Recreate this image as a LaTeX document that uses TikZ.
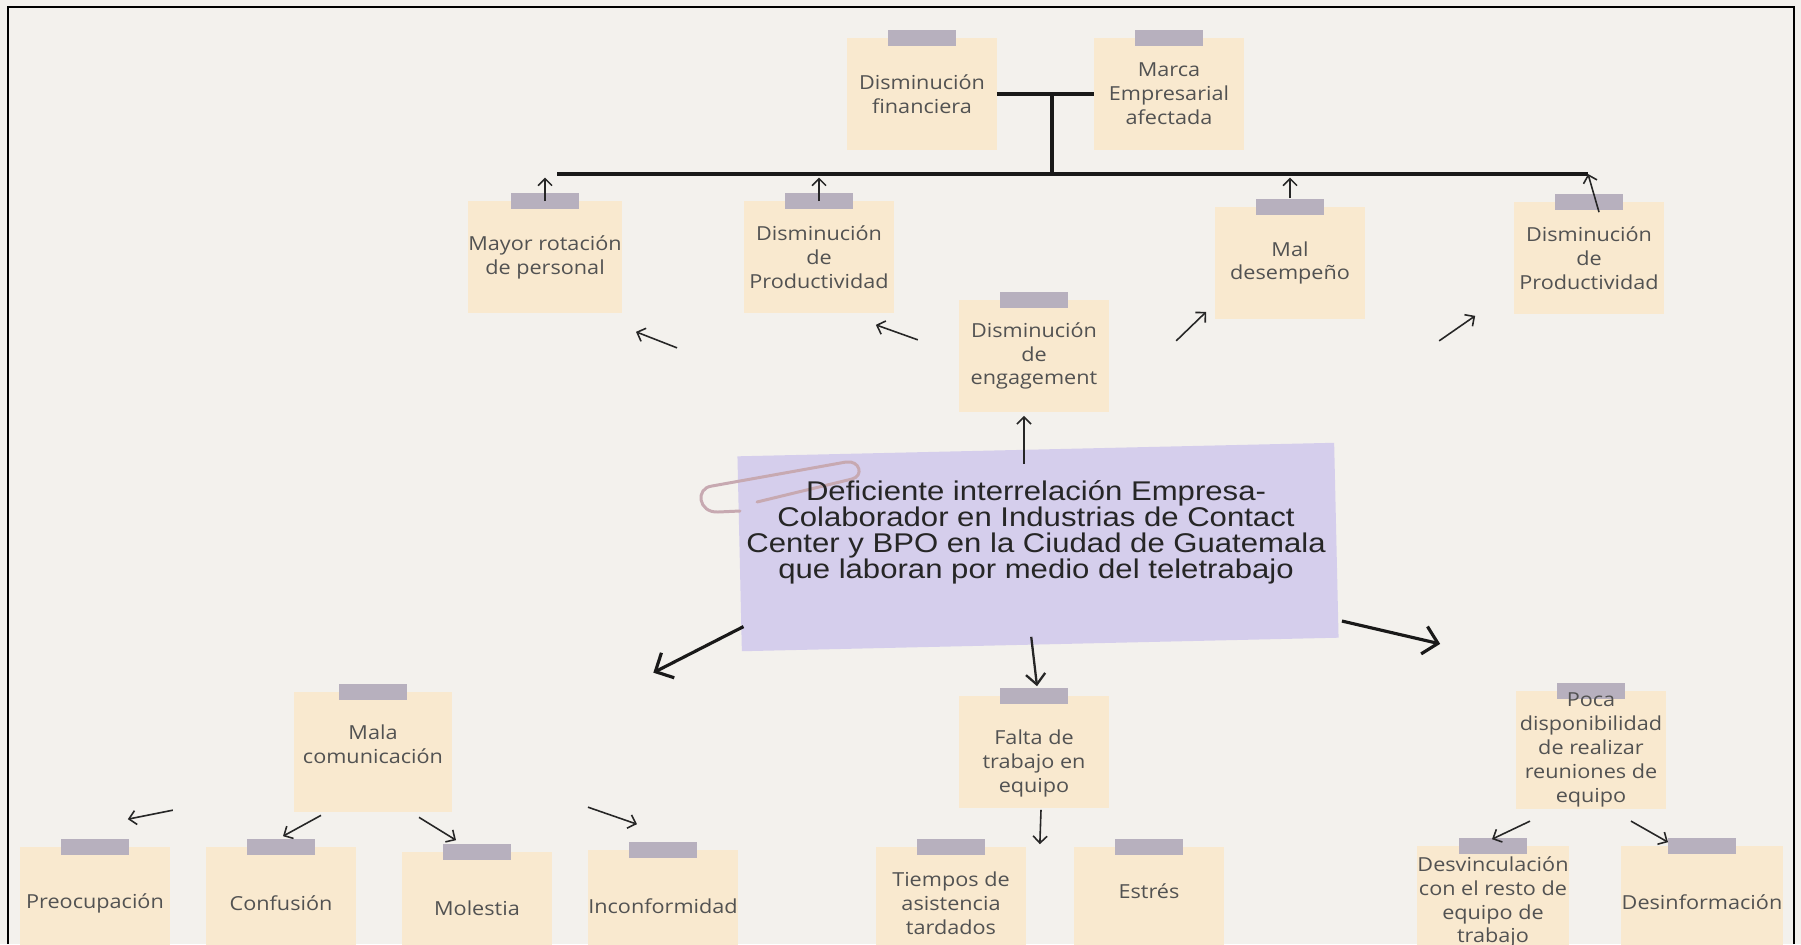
\documentclass[tikz,border=0pt]{standalone}
\usepackage{fontspec}
\usepackage{xcolor}
\usepackage{tikz}
\usetikzlibrary{arrows.meta}

\setmainfont{Open Sans}
\newfontfamily\notefont[FakeStretch=1.12]{Open Sans}
\newfontfamily\corefont[FakeStretch=1.15]{Liberation Sans}

\definecolor{paper}{HTML}{F3F1ED}
\definecolor{notecol}{HTML}{F9E9CF}
\definecolor{tapecol}{HTML}{B7B0BE}
\definecolor{lilac}{HTML}{D5CEEC}
\definecolor{clipcol}{HTML}{C7A9B1}
\definecolor{inkcol}{HTML}{525252}

\pgfdeclarelayer{paperlayer}
\pgfdeclarelayer{tapelayer}
\pgfsetlayers{paperlayer,tapelayer,main}

\tikzset{
  note/.style={rectangle, minimum width=2.98cm, minimum height=2.22cm, inner xsep=0pt, inner ysep=1pt,
    align=center, text=inkcol, font=\notefont\fontsize{11}{13.6}\selectfont},
  corebox/.style={rectangle, fill=lilac, minimum width=11.94cm, minimum height=3.9cm, inner sep=0pt, rotate=1.3},
  coretext/.style={align=center, text=black!85, font=\corefont\fontsize{15.4}{14.8}\selectfont},
  busline/.style={line width=2pt, black!90},
  arr/.style={line width=0.9pt, black!85, -{Straight Barb[length=4pt,width=8pt]}},
  midarr/.style={line width=1.3pt, black!85, -{Straight Barb[length=6pt,width=11pt]}},
  bigarr/.style={line width=1.8pt, black!90, -{Straight Barb[length=8pt,width=16pt]}}
}

\begin{document}
\begin{tikzpicture}[x=0.02cm, y=-0.02cm]
    \useasboundingbox (0,0) rectangle (1801,944);
    \begin{pgfonlayer}{paperlayer}
        \fill[paper] (0,0) rectangle (1801,944);
    \end{pgfonlayer}
    \draw[line width=1.6pt] (8,944) -- (8,7) -- (1794,7) -- (1794,944);

    % effects
    \node[note] (fin) at (922,94) {Disminución\\financiera};
    \node[note] (marca) at (1169,94) {Marca\\Empresarial\\afectada};
    \node[note] (mayor) at (545,257) {Mayor rotación\\de personal};
    \node[note] (prodA) at (819,257) {Disminución\\de\\Productividad};
    \node[note] (mal) at (1290,263) {Mal\\desempeño};
    \node[note] (prodB) at (1589,258) {Disminución\\de\\Productividad};
    \node[note] (engage) at (1034,356) {Disminución\\de\\engagement};

    % central problem
    \node[corebox] (core) at (1038,547) {};
    \draw[clipcol, line width=1.7pt, line cap=round] (740,511) -- (718,512) .. controls (698,513) and (695,488) .. (712,486)
        -- (846,462) .. controls (860,460) and (864,476) .. (852,479) -- (757,502);
    \node[coretext] (coretxt) at (1036,532) {Deficiente interrelación Empresa-\\Colaborador en Industrias de Contact\\Center y BPO en la Ciudad de Guatemala\\que laboran por medio del teletrabajo};

    % causes
    \node[note, minimum width=3.16cm, minimum height=2.4cm, text depth=9.2pt] (mala) at (373,752) {Mala\\comunicación};
    \node[note, text height=48.6pt] (falta) at (1034,752) {Falta de\\trabajo en\\equipo};
    \node[note] (poca) at (1591,750) {Poca\\disponibilidad\\de realizar\\reuniones de\\equipo};
    \node[note] (preo) at (95,903) {Preocupación};
    \node[note] (conf) at (281,903) {Confusión};
    \node[note] (mole) at (477,908) {Molestia};
    \node[note] (inco) at (663,906) {Inconformidad};
    \node[note] (tiem) at (951,903) {Tiempos de\\asistencia\\tardados};
    \node[note, text depth=13.6pt] (estr) at (1149,903) {Estrés};
    \node[note] (desv) at (1493,902) {Desvinculación\\con el resto de\\equipo de\\trabajo};
    \node[note] (desi) at (1702,902) {Desinformación};

    % paper and tape behind the text
    \begin{pgfonlayer}{paperlayer}
        \foreach \n in {fin,marca,mayor,prodA,mal,prodB,engage,mala,falta,poca,preo,conf,mole,inco,tiem,estr,desv,desi}
            \fill[notecol] (\n.south west) rectangle (\n.north east);
    \end{pgfonlayer}
    \begin{pgfonlayer}{tapelayer}
        \foreach \n in {fin,marca,mayor,prodA,mal,prodB,engage,mala,falta,poca,preo,conf,mole,inco,tiem,estr,desv,desi}
            \fill[tapecol] ([shift={(-34,-8)}]\n.north) rectangle ([shift={(34,8)}]\n.north);
    \end{pgfonlayer}

    % top bus
    \coordinate (join) at (1052,94);
    \coordinate (busL) at (557,174);
    \coordinate (busR) at (1588,174);
    \draw[busline] (fin.east) -- (marca.west);
    \draw[busline] (join) -- (join |- busL);
    \draw[busline] (busL) -- (busR);
    \draw[arr] (mayor.north) -- ([yshift=-2]mayor.north |- busL);
    \draw[arr] (prodA.north) -- ([yshift=-2]prodA.north |- busL);
    \draw[arr] ([yshift=5]mal.north) -- ([yshift=-2]mal.north |- busL);
    \draw[arr] ([shift={(10,10)}]prodB.north) -- (busR);

    % engagement arrows
    \draw[arr] ([shift={(55,35)}]mayor.south east) -- ([shift={(14,19)}]mayor.south east);
    \draw[arr] ([shift={(24,27)}]prodA.south east) -- ([shift={(-18,12)}]prodA.south east);
    \draw[arr] ([shift={(-39,22)}]mal.south west) -- ([shift={(-9,-7)}]mal.south west);
    \draw[arr] ([shift={(-75,27)}]prodB.south west) -- ([shift={(-39,2)}]prodB.south west);
    \draw[arr] ([shift={(-10,52)}]engage.south) -- ([shift={(-10,4)}]engage.south);

    % core to causes
    \draw[bigarr] ([shift={(2,-25)}]core.south west) -- ([shift={(201,-19)}]mala.north east);
    \draw[midarr] ([shift={(-9,-8)}]core.south) -- ([shift={(3,-10)}]falta.north);
    \draw[bigarr] ([shift={(3,-17)}]core.south east) -- ([shift={(-76,-47)}]poca.north west);

    % causes to sub causes
    \draw[arr] ([shift={(3,-37)}]preo.north east) -- ([shift={(-42,-28)}]preo.north east);
    \draw[arr] ([shift={(-52,3)}]mala.south) -- ([shift={(2,-11)}]conf.north);
    \draw[arr] ([shift={(46,5)}]mala.south) -- ([shift={(-21,-12)}]mole.north);
    \draw[arr] ([shift={(0,-43)}]inco.north west) -- ([shift={(49,-26)}]inco.north west);
    \draw[arr] ([shift={(7,2)}]falta.south) -- ([shift={(14,-3)}]tiem.north east);
    \draw[arr] ([shift={(-61,12)}]poca.south) -- ([shift={(-1,-7)}]desv.north);
    \draw[arr] ([shift={(40,12)}]poca.south) -- ([shift={(-34,-4)}]desi.north);
\end{tikzpicture}
\end{document}
